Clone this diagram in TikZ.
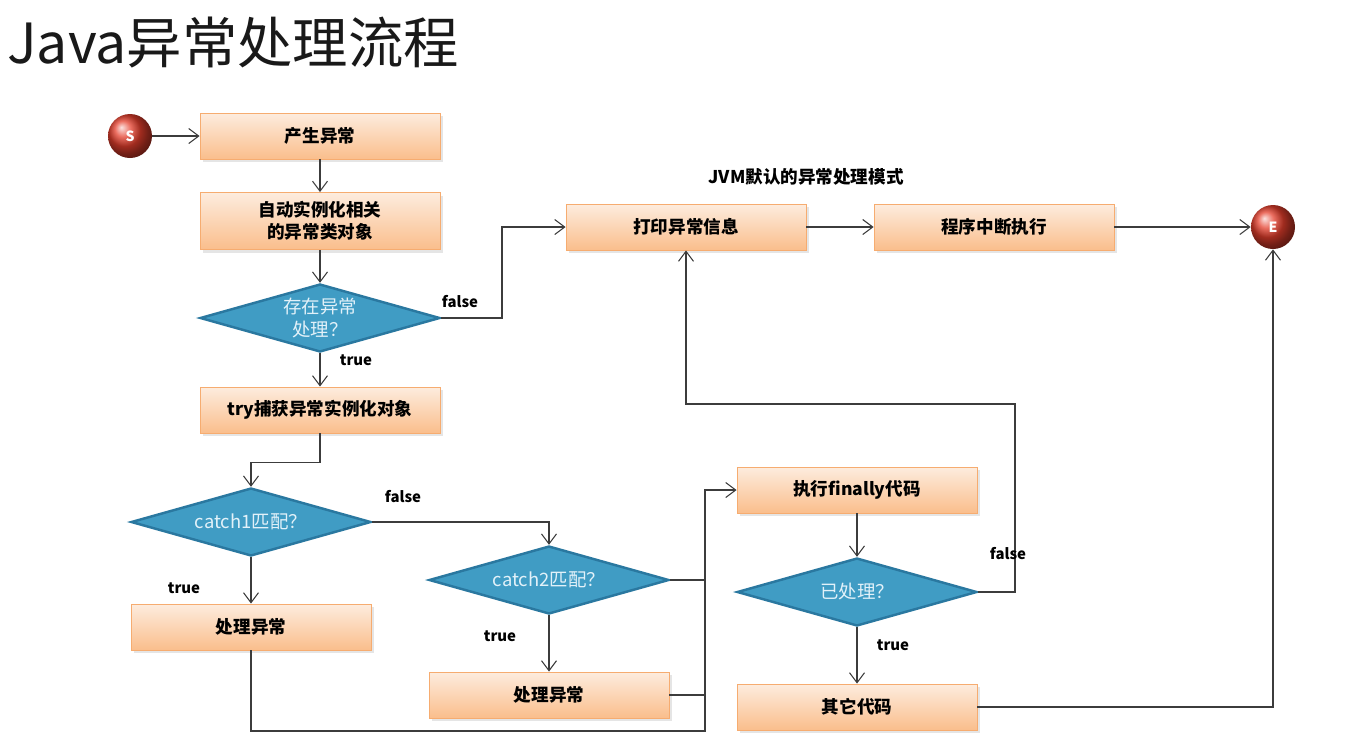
\documentclass[tikz,border=0pt]{standalone}
\usepackage{fontspec}
\setmainfont{Noto Sans CJK SC}
\usepackage{tikz}
\usetikzlibrary{shapes.geometric, arrows.meta, shadows}

\definecolor{boxtop}{RGB}{253,236,222}
\definecolor{boxbot}{RGB}{250,190,140}
\definecolor{boxline}{RGB}{246,172,112}
\definecolor{dfill}{RGB}{64,156,196}
\definecolor{dline}{RGB}{42,120,160}
\definecolor{dtext}{RGB}{226,241,249}
\definecolor{ballred}{RGB}{228,62,44}
\definecolor{wire}{RGB}{60,60,60}

\begin{document}
\begin{tikzpicture}[x=0.02cm, y=-0.02cm]
\tikzstyle{every node}+=[inner sep=0pt]
\tikzstyle{stepbox}=[rectangle, minimum width=4.8cm, minimum height=0.92cm, top color=boxtop, bottom color=boxbot, draw=boxline, line width=0.5pt, drop shadow={opacity=0.2, shadow xshift=0.6mm, shadow yshift=-0.6mm}, font=\fontsize{10}{12.5}\selectfont\bfseries, align=center]
\tikzstyle{test}=[diamond, aspect=3.6, minimum width=4.8cm, minimum height=1.36cm, fill=dfill, draw=dline, line width=1.4pt, text=dtext, font=\fontsize{10.5}{13}\selectfont, align=center]
\tikzstyle{term}=[circle, minimum size=0.88cm, shading=ball, ball color=ballred, text=white, font=\fontsize{8}{9}\selectfont\bfseries]
\tikzstyle{lbl}=[font=\fontsize{8.5}{10}\selectfont\bfseries]
\tikzstyle{arr}=[draw=wire, line width=0.6pt, -{Straight Barb[length=2mm, width=3mm]}]
\tikzstyle{wireline}=[draw=wire, line width=0.6pt]

\fill [white] (0,0) rectangle (1359,748);
\useasboundingbox (0,0) rectangle (1359,748);

\node [anchor=west, font=\fontsize{31.5}{36}\selectfont, text=black!90] (title) at (7,43) {Java异常处理流程};

\node [term] (s) at (130,136) {S};
\node [stepbox] (gen) at (320,136) {产生异常};
\node [stepbox, minimum height=1.14cm] (inst) at (320,221) {自动实例化相关\\的异常类对象};
\node [test] (has) at (320,318) {存在异常\\处理？};
\node [stepbox] (try) at (320,410) {try捕获异常实例化对象};
\node [test] (c1) at (251,522) {catch1匹配？};
\node [stepbox] (h1) at (251,627) {处理异常};
\node [test] (c2) at (549,580) {catch2匹配？};
\node [stepbox] (h2) at (549,695) {处理异常};
\node [stepbox] (fin) at (857,490) {执行finally代码};
\node [test] (done) at (857,592) {已处理？};
\node [stepbox] (other) at (857,707) {其它代码};
\node [stepbox] (print) at (686,227) {打印异常信息};
\node [stepbox] (stop) at (994,227) {程序中断执行};
\node [term] (e) at (1273,227) {E};
\node [lbl, font=\fontsize{10}{12}\selectfont\bfseries] (jvm) at (806,177) {JVM默认的异常处理模式};

\draw [arr] (s) -- (gen);
\draw [arr] (gen) -- (inst);
\draw [arr] (inst) -- (has);
\draw [arr] (has.east) -- (502,318) |- (print.west);
\node [lbl] (f1) at (460,302) {false};
\draw [arr] (has) -- (try);
\node [lbl] (t1) at (356,360) {true};
\draw [arr] (try.south) -- ++(0,29) -| (c1.north);
\draw [arr] (c1.east) -| (c2.north);
\node [lbl] (f2) at (403,497) {false};
\draw [arr] (c1) -- (h1);
\node [lbl] (t2) at (184,588) {true};
\draw [arr] (c2) -- (h2);
\node [lbl] (t3) at (500,636) {true};
\draw [arr] (c2.east) -- (705,580) |- (fin.west);
\draw [wireline] (h2.east) -- (705,695);
\draw [wireline] (h1.south) |- (705,731) -- (705,580);
\draw [arr] (fin) -- (done);
\draw [arr] (done.east) -| (1015,404) -| (print.south);
\node [lbl] (f3) at (1008,554) {false};
\draw [arr] (done) -- (other);
\node [lbl] (t4) at (893,645) {true};
\draw [arr] (other.east) -| (e.south);
\draw [arr] (print) -- (stop);
\draw [arr] (stop) -- (e);
\end{tikzpicture}
\end{document}
